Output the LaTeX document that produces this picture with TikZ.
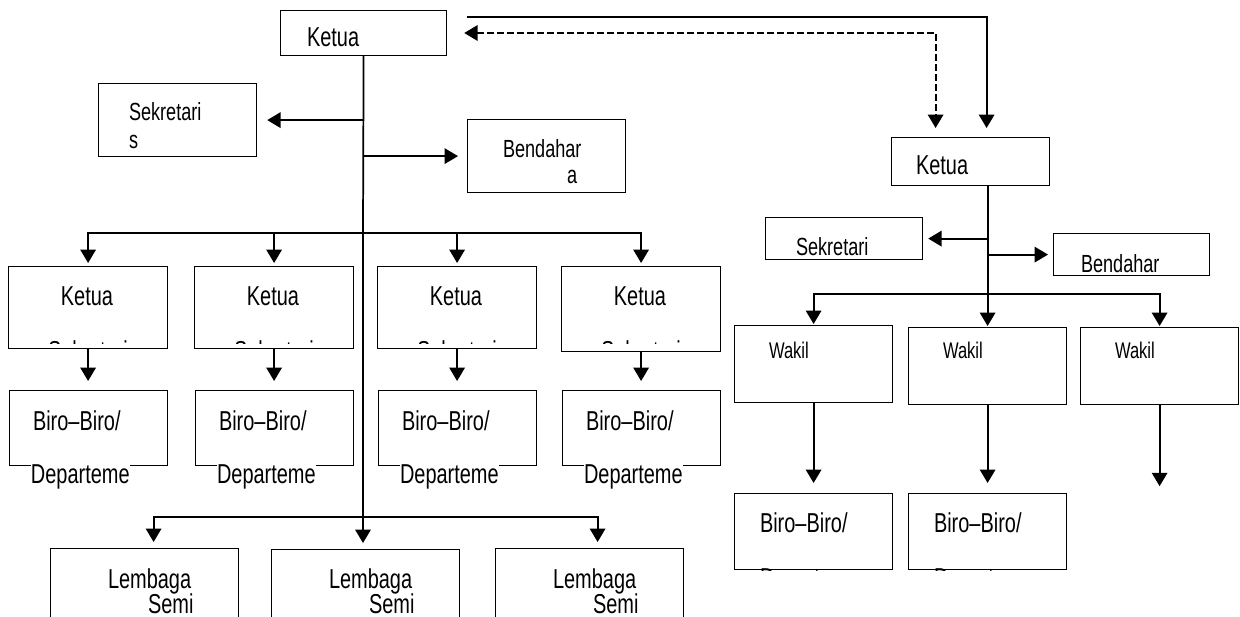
\documentclass[tikz,border=0pt]{standalone}
\usepackage{fontspec}
\setmainfont{Liberation Sans}[FakeStretch=0.73]
\usetikzlibrary{arrows.meta,positioning}

\tikzset{
  box/.style 2 args={draw,line width=0.9pt,anchor=north west,inner sep=0pt,
    minimum width=#1*0.75pt,minimum height=#2*0.75pt},
  lbl/.style={inner sep=0pt,anchor=base west,font=\fontsize{20.5}{24}\selectfont},
  lblsm/.style={lbl,font=\fontsize{18.6}{22}\selectfont},
  lblxs/.style={lbl,font=\fontsize{17}{20}\selectfont},
  gap/.style={shorten >=#1*0.75pt},
  trunk/.style={line width=1.3pt},
}

\begin{document}
\begin{tikzpicture}[x=0.75pt,y=-0.75pt,>={Triangle[width=11.5pt,length=10pt]},
    line width=1.5pt]
  \clip (0,0) rectangle (1240,617);
  % pengurus pusat
  \node[box={166}{45}] (k0) at (280,10) {};
  \node[lbl] (k0t) at (306,47) {Ketua};
  \node[box={158}{73}] (sek0) at (98,83) {};
  \node[lblsm] (sek0t) at (128,121) {Sekretari};
  \node[lblsm] (sek0u) at (128,148) {s};
  \node[box={158}{73}] (ben0) at (467,119) {};
  \node[lblsm] (ben0t) at (502,157) {Bendahar};
  \node[lblsm] (ben0u) at (566,183) {a};
  \coordinate (r0) at (363,233);
  \coordinate (r2) at (363,517);
  \draw[trunk] (k0.south) -- (r0) -- (r2);
  \draw[->,gap=10] (k0.south |- sek0.east) -- (sek0.east);
  \draw[->,gap=9] (k0.south |- ben0.west) -- (ben0.west);

  % ketua bidang dan biro
  \foreach \i/\x/\h in {1/8/82,2/194/82,3/377/82,4/561/85} {
    \node[box={159}{\h}] (ka\i) at (\x,266) {};
    \node[lbl,anchor=base] (kat\i) at (\x+79,305) {Ketua};
    \begin{scope}
      \clip (ka\i.north west) rectangle (\x+159,343);
      \node[lbl,anchor=base] (kas\i) at (\x+80,360) {Sekretari};
    \end{scope}
    \node[box={158}{75}] (bi\i) at (\x+1,390) {};
    \node[lbl] (bit\i) at (\x+24,430) {Biro–Biro/};
    \node[lbl,fill=white,inner ysep=1pt] (biu\i) at (\x+22,483) {Departeme};
    \draw[->,gap=3] (r0) -| (ka\i.north);
    \draw[->,gap=9] (ka\i.south) -- (ka\i.south |- bi\i.north);
  }

  % lembaga semi otonom
  \foreach \i/\x/\y in {1/50/548,2/271/549,3/495/548} {
    \node[box={188}{100}] (lg\i) at (\x,\y) {};
    \node[lbl] (lgt\i) at (\x+57,588) {Lembaga};
    \node[lbl] (lgu\i) at (\x+97,613) {Semi};
  }
  \draw[->,gap=6] (r2) -- (r2 |- lg2.north);
  \draw[->,gap=6] (r2) -| ([shift={(9,0)}]lg1.north);
  \draw[->,gap=6] (r2) -| ([shift={(8,0)}]lg3.north);

  % pengurus kanan
  \node[box={158}{48}] (k1) at (891,137) {};
  \node[lbl] (k1t) at (915,175) {Ketua};
  \draw[->,gap=9] ([shift={(20,7)}]k0.north east) -| ([shift={(16,0)}]k1.north);
  \draw[<->,dash pattern=on 5pt off 2.5pt,gap=9]
    ([shift={(17,23)}]k0.north east) -| ([shift={(-35,0)}]k1.north);
  \node[box={157}{42}] (sek1) at (765,217) {};
  \node[lblsm] (sek1t) at (795,255) {Sekretari};
  \node[box={156}{42}] (ben1) at (1053,233) {};
  \node[lblsm] (ben1t) at (1080,272) {Bendahar};
  \coordinate (t1) at ([shift={(17,0)}]k1.south);
  \coordinate (r1) at ([shift={(0,108)}]t1);
  \draw[->,gap=5] (t1 |- sek1.east) -- (sek1.east);
  \draw[->,gap=5] (t1 |- ben1.west) -- (ben1.west);

  \foreach \i/\x/\y in {1/734/325,2/908/327,3/1080/327} {
    \node[box={158}{77}] (wk\i) at (\x,\y) {};
    \node[lblxs] (wkt\i) at (\x+34,358) {Wakil};
  }
  \draw[->,gap=1] (t1) -- (t1 |- wk2.north);
  \draw[->,gap=1] (r1) -| (wk1.north);
  \draw[->,gap=1] (r1) -| (wk3.north);

  \foreach \i/\x in {1/734,2/908} {
    \node[box={158}{76}] (bb\i) at (\x,493) {};
    \node[lbl] (bbt\i) at (\x+25,532) {Biro–Biro/};
    \begin{scope}
      \clip (bb\i.north west) rectangle (bb\i.south east);
      \node[lbl] (bbu\i) at (\x+25,587) {Departeme};
    \end{scope}
    \draw[->,gap=10] (wk\i) -- (bb\i);
  }
  \coordinate (e3) at ([shift={(0,91)}]wk3.south);
  \draw[->,gap=10] (wk3) -- (e3);
\end{tikzpicture}
\end{document}
